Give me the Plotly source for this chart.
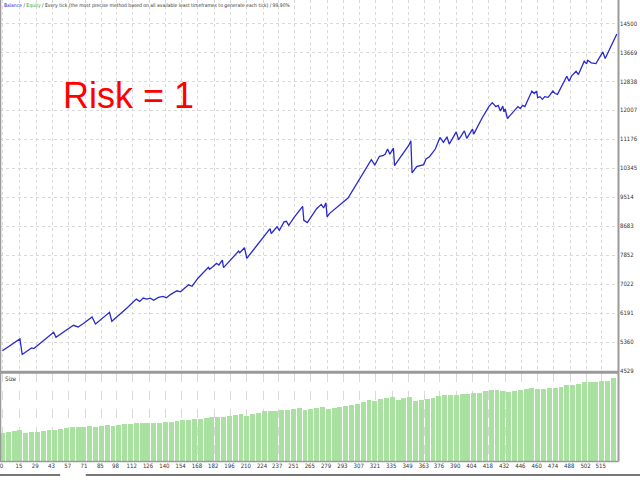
import plotly.graph_objects as go

# balance curve: trade number -> balance
eq_trade = [0, 15, 17, 24, 25, 27, 44, 46, 58, 61, 65, 69, 77, 80, 92, 94, 107, 115, 118, 121,
            124, 127, 130, 134, 138, 141, 144, 150, 153, 160, 163, 168, 177, 178, 181, 184, 186,
            189, 190, 203, 204, 208, 210, 221, 230, 231, 236, 238, 242, 244, 246, 251, 258, 259,
            262, 270, 274, 276, 278, 279, 281, 297, 317, 320, 324, 327, 329, 331, 333, 336, 337,
            341, 349, 351, 352, 356, 359, 362, 364, 367, 372, 376, 379, 382, 384, 390, 392, 397,
            399, 404, 405, 410, 412, 418, 421, 424, 426, 428, 430, 431, 432, 434, 437, 443, 445,
            447, 449, 455, 457, 459, 460, 462, 464, 466, 469, 473, 475, 477, 485, 487, 489, 493,
            495, 500, 502, 503, 506, 510, 516, 518, 528]
eq_value = [5110, 5450, 5002, 5173, 5190, 5170, 5641, 5498, 5792, 5840, 5792, 5878, 6077, 5878,
            6211, 5955, 6334, 6591, 6525, 6620, 6590, 6620, 6560, 6640, 6670, 6630, 6713, 6830,
            6800, 7000, 6960, 7190, 7504, 7447, 7524, 7618, 7570, 7711, 7495, 7968, 7920, 8066,
            7760, 8237, 8616, 8473, 8664, 8567, 8807, 8824, 8710, 8950, 9252, 8853, 8787, 9186,
            9309, 9206, 9358, 8950, 9045, 9491, 10592, 10441, 10689, 10706, 10754, 10897, 10750,
            10926, 10421, 10612, 10992, 11134, 10213, 10393, 10421, 10450, 10612, 10678, 10897,
            11231, 11089, 11248, 11040, 11391, 11163, 11419, 11203, 11468, 11325, 11659, 11773,
            12115, 12229, 12115, 12150, 11989, 12132, 11961, 12050, 11773, 11895, 12115, 12060,
            12152, 12115, 12560, 12490, 12560, 12372, 12400, 12323, 12400, 12380, 12560, 12490,
            12466, 12988, 12845, 12988, 13131, 13036, 13416, 13341, 13444, 13370, 13350, 13684,
            13493, 14197]

# lot size, one reading every 5 trades
size_trade = list(range(0, 530, 5))
size_lots = [0.49, 0.50, 0.52, 0.54, 0.49, 0.50, 0.51, 0.52, 0.54, 0.53, 0.55, 0.57, 0.58, 0.58,
             0.59, 0.60, 0.59, 0.61, 0.62, 0.60, 0.62, 0.63, 0.64, 0.65, 0.65, 0.66, 0.66, 0.66,
             0.67, 0.68, 0.69, 0.70, 0.71, 0.72, 0.72, 0.74, 0.75, 0.76, 0.75, 0.77, 0.79, 0.80,
             0.78, 0.80, 0.82, 0.85, 0.86, 0.86, 0.87, 0.87, 0.89, 0.91, 0.88, 0.89, 0.91, 0.93,
             0.90, 0.91, 0.93, 0.94, 0.96, 0.98, 1.01, 1.04, 1.03, 1.06, 1.07, 1.09, 1.04, 1.07,
             1.10, 1.02, 1.04, 1.06, 1.07, 1.11, 1.12, 1.12, 1.13, 1.14, 1.14, 1.16, 1.17, 1.20,
             1.22, 1.21, 1.20, 1.18, 1.20, 1.21, 1.23, 1.25, 1.23, 1.23, 1.24, 1.25, 1.27, 1.30,
             1.30, 1.31, 1.34, 1.34, 1.34, 1.36, 1.37, 1.41]

x_ticks = [0, 15, 29, 43, 57, 71, 85, 98, 112, 126, 140, 154, 168, 182, 196, 210, 224, 237, 251,
           265, 279, 293, 307, 321, 335, 349, 363, 376, 390, 404, 418, 432, 446, 460, 474, 488,
           502, 515]
y_ticks = [4529, 5360, 6191, 7022, 7852, 8683, 9514, 10345, 11176, 12007, 12838, 13669, 14500]

FONT = "DejaVu Sans Condensed"
GRID = "#d9d9d9"
BORDER = "#9a9a9a"
TICK_FONT = dict(family=FONT, size=6, color="#333333")

fig = go.Figure()

fig.add_trace(go.Scatter(x=eq_trade, y=eq_value, mode="lines",
                         line=dict(color="#2a2acc", width=1.3),
                         xaxis="x", yaxis="y", hoverinfo="skip"))

fig.add_trace(go.Bar(x=size_trade, y=size_lots, width=4.2,
                     marker=dict(color="#a9e1a1", line=dict(width=0)),
                     xaxis="x2", yaxis="y2", hoverinfo="skip"))

xr = [-2.1, 529]
fig.update_layout(
    width=640, height=480,
    margin=dict(l=0, r=0, t=0, b=0),
    paper_bgcolor="white", plot_bgcolor="white",
    showlegend=False,
    font=dict(family=FONT, size=6, color="#333333"),
    xaxis=dict(domain=[0, 0.9656], range=xr, tickvals=x_ticks, showticklabels=False,
               showgrid=True, gridcolor=GRID, griddash="dot", zeroline=False,
               anchor="y"),
    yaxis=dict(domain=[0.2223, 1.0], range=[4529, 15174], tickvals=y_ticks, side="right",
               tickformat="d",
               showgrid=True, gridcolor=GRID, griddash="dot", zeroline=False,
               anchor="x", ticks="", ticklabelstandoff=1, ticklabeloverflow="allow",
               tickfont=TICK_FONT),
    xaxis2=dict(domain=[0, 0.9656], range=xr, tickvals=x_ticks, showticklabels=True,
                showgrid=True, gridcolor=GRID, griddash="dash", zeroline=False,
                anchor="y2", ticks="", ticklabelshift=-1, ticklabeloverflow="allow",
                tickfont=TICK_FONT),
    yaxis2=dict(domain=[0.0327, 0.2188], range=[0, 1.5], showticklabels=False,
                showgrid=False, zeroline=False, anchor="x2"),
    bargap=0,
)

# frame lines
shapes = [
    dict(type="line", xref="paper", yref="paper", x0=0.0008, x1=0.0008, y0=0.0327, y1=1,
         line=dict(color=BORDER, width=1.5)),
    dict(type="line", xref="paper", yref="paper", x0=0.9664, x1=0.9664, y0=0.0327, y1=1,
         line=dict(color=BORDER, width=2)),
    dict(type="line", xref="paper", yref="paper", x0=0, x1=0.9664, y0=0.2198, y1=0.2198,
         line=dict(color=BORDER, width=3)),
    dict(type="line", xref="paper", yref="paper", x0=0, x1=0.9664, y0=0.0327, y1=0.0327,
         line=dict(color=BORDER, width=1.5)),
    dict(type="line", xref="paper", yref="paper", x0=0, x1=0.094, y0=0.004, y1=0.004,
         line=dict(color="#777777", width=2)),
    dict(type="line", xref="paper", yref="paper", x0=0.134, x1=1, y0=0.004, y1=0.004,
         line=dict(color="#777777", width=2)),
]
fig.update_layout(shapes=shapes)

fig.add_annotation(
    xref="paper", yref="paper", x=0.003, y=0.999, xanchor="left", yanchor="top",
    showarrow=False, align="left",
    text=("<span style='color:#2a2acc'>Balance</span> / "
          "<span style='color:#22aa22'>Equity</span> / Every tick (the most precise method "
          "based on all available least timeframes to generate each tick) / 99.90%"),
    font=dict(family=FONT, size=5, color="#333333"))

fig.add_annotation(
    xref="paper", yref="paper", x=0.004, y=0.217, xanchor="left", yanchor="top",
    showarrow=False, text="Size", font=dict(family=FONT, size=6, color="#333333"))

fig.add_annotation(
    xref="paper", yref="paper", x=0.2, y=0.80, xanchor="center", yanchor="middle",
    showarrow=False, text="Risk = 1", font=dict(family="Liberation Sans", size=36, color="#ff0000"))

# drop the default page margin so the chart sits at the window's top-left corner
fig.write_html("out.html", config={"displayModeBar": False},
               post_script="document.body.style.margin='0';document.body.style.padding='0';")
